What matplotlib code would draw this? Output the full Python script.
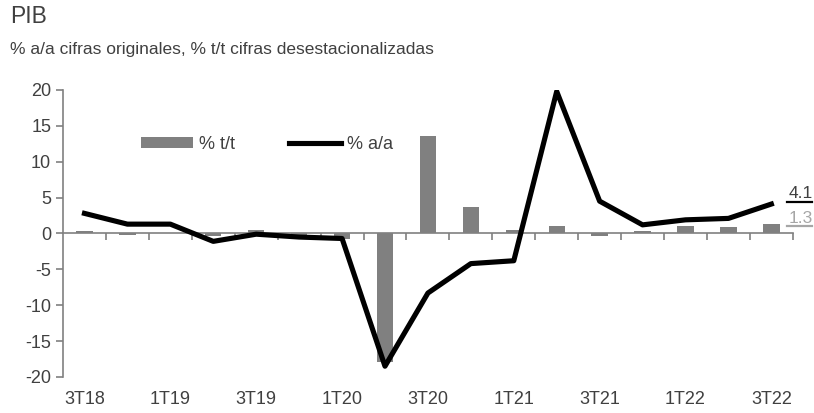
import matplotlib
matplotlib.use("Agg")
import matplotlib.pyplot as plt
import numpy as np
from matplotlib import font_manager

quarters = ["3T18", "4T18", "1T19", "2T19", "3T19", "4T19", "1T20", "2T20", "3T20",
            "4T20", "1T21", "2T21", "3T21", "4T21", "1T22", "2T22", "3T22"]
tt = [0.4, -0.2, 0.1, -0.3, 0.5, -0.2, -0.8, -17.9, 13.6,
      3.7, 0.5, 1.0, -0.4, 0.3, 1.1, 0.9, 1.3]
aa = [2.8, 1.3, 1.3, -1.1, -0.1, -0.5, -0.7, -18.5, -8.3,
      -4.2, -3.8, 19.8, 4.5, 1.2, 1.9, 2.1, 4.1]
yticks = [-20, -15, -10, -5, 0, 5, 10, 15, 20]

names = {f.name for f in font_manager.fontManager.ttflist}
fam = "Liberation Sans Narrow" if "Liberation Sans Narrow" in names else "Liberation Sans"
plt.rcParams["font.family"] = [fam, "DejaVu Sans"]
plt.rcParams["axes.unicode_minus"] = False

txt = "#404040"
grey = "#808080"
light = "#a6a6a6"

fig = plt.figure(figsize=(8.14, 4.13), dpi=100)
ax = fig.add_axes([0.0774, 0.0872, 0.8966, 0.695])

x = np.arange(len(quarters))
bars = ax.bar(x, tt, width=0.38, color=grey, label="% t/t", zorder=2)
line, = ax.plot(x, aa, color="black", lw=3.7, label="% a/a", zorder=3)

ax.set_xlim(-0.5, len(quarters) - 0.5)
ax.set_ylim(-20, 20)
ax.set_yticks(yticks)
ax.tick_params(axis="y", colors=grey, labelcolor=txt, labelsize=13, length=5, width=1.2)

for s in ["top", "right"]:
    ax.spines[s].set_visible(False)
ax.spines["left"].set_color(grey)
ax.spines["left"].set_linewidth(1.2)
ax.spines["bottom"].set_position(("data", 0))
ax.spines["bottom"].set_color(grey)
ax.spines["bottom"].set_linewidth(1.2)

# category boundaries as tick marks on the zero line
ax.set_xticks(np.arange(0.5, len(quarters)))
ax.set_xticklabels([])
ax.tick_params(axis="x", colors=grey, length=5, width=1.2)

sec = ax.secondary_xaxis("bottom")
sec.set_xticks(x[::2], quarters[::2])
sec.tick_params(length=0, pad=10, labelsize=13, labelcolor=txt)
sec.spines["bottom"].set_visible(False)

# end-of-series labels, underlined
last = len(quarters) - 1
ytr = ax.get_yaxis_transform()
ax.text(0.994, aa[last] + 0.9, f"{aa[last]:.1f}", transform=ytr,
        color=txt, fontsize=12.5, va="baseline", ha="left")
ax.plot([0.992, 1.026], [aa[last] + 0.3] * 2, transform=ytr,
        color="black", lw=1.6, clip_on=False)
ax.text(0.994, tt[last] + 0.2, f"{tt[last]:.1f}", transform=ytr,
        color=light, fontsize=12.5, va="baseline", ha="left")
ax.plot([0.992, 1.026], [tt[last] - 0.3] * 2, transform=ytr,
        color=light, lw=1.6, clip_on=False)

leg = ax.legend([bars, line], ["% t/t", "% a/a"], loc="center left",
                bbox_to_anchor=(0.107, 0.81), ncol=2, frameon=False,
                fontsize=13, handlelength=2.9, handletextpad=0.3, columnspacing=3.0,
                handleheight=0.55, borderpad=0, borderaxespad=0)
for t in leg.get_texts():
    t.set_color(txt)

fig.text(0.012, 0.932, "PIB", fontsize=16.5, color=txt, ha="left", va="bottom")
fig.text(0.012, 0.862, "% a/a cifras originales, % t/t cifras desestacionalizadas",
         fontsize=12.5, color=txt, ha="left", va="bottom")

fig.savefig("out.png", dpi=100)
